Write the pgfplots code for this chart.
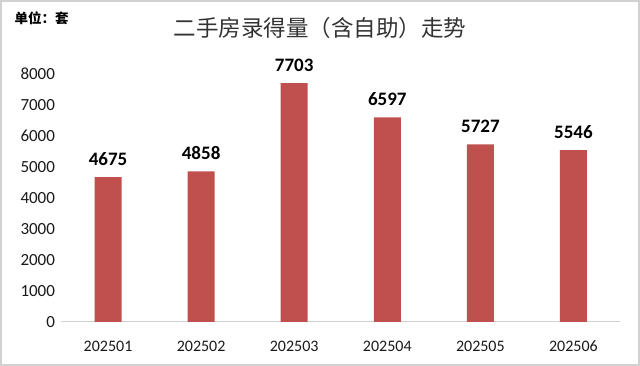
\documentclass[border=0pt]{standalone}
\usepackage{pgfplots}
\pgfplotsset{compat=1.18}
\usepackage{fontspec}
\setmainfont{Carlito}
\newfontfamily\cjk{Noto Sans CJK SC}
\definecolor{barred}{HTML}{C0504D}
\begin{document}
\begin{tikzpicture}[x=1pt,y=1pt]
\useasboundingbox (0,0) rectangle (640,366);
\draw[black!18, line width=1.5pt] (1,1) rectangle (639,365);
\node[anchor=west, font=\cjk\bfseries\fontsize{13.5}{13.5}\selectfont] at (11,348) {单位：套};
\node[font=\cjk\fontsize{22.5}{22.5}\selectfont, text=black!80] at (320,338) {二手房录得量（含自助）走势};
\begin{axis}[
  at={(61.5pt,44pt)}, anchor=south west,
  scale only axis, width=558.5pt, height=248pt,
  ymin=0, ymax=8000, xmin=-0.5, xmax=5.5,
  ytick={0,1000,...,8000},
  xtick={0,...,5},
  xticklabels={202501,202502,202503,202504,202505,202506},
  axis lines*=left,
  y axis line style={draw=none},
  x axis line style={black!18, line width=1pt},
  tick style={draw=none},
  /pgf/number format/1000 sep={},
  /pgf/number format/assume math mode=true,
  ticklabel style={text=black!90},
  yticklabel style={font=\fontsize{17}{17}\selectfont, xshift=-3pt},
  xticklabel style={font=\fontsize{16}{16}\selectfont, anchor=center, yshift=-24pt},
  nodes near coords,
  nodes near coords style={font=\bfseries\fontsize{19}{19}\selectfont, anchor=south, yshift=8pt, text=black},
  clip=false,
]
\addplot[ybar, bar width=27pt, fill=barred, draw=none] coordinates {
  (0,4675) (1,4858) (2,7703) (3,6597) (4,5727) (5,5546)
};
\end{axis}
\end{tikzpicture}
\end{document}
